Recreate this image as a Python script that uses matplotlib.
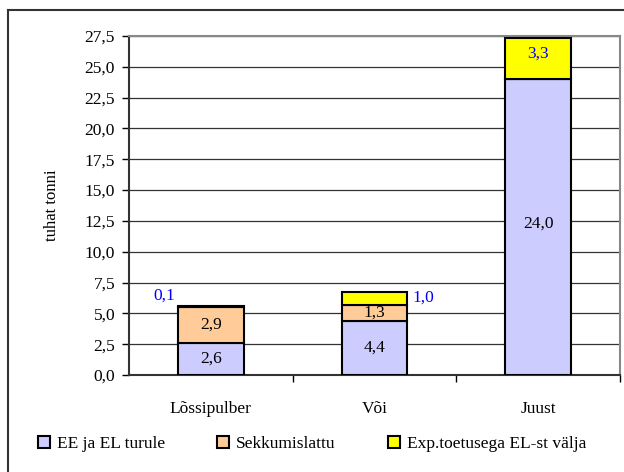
import numpy as np
import matplotlib
matplotlib.use("Agg")
import matplotlib.pyplot as plt
from matplotlib.lines import Line2D
from matplotlib.patches import Patch

plt.rcParams['font.family'] = ['Liberation Serif', 'DejaVu Serif']

categories = ['Lõssipulber', 'Või', 'Juust']
series_names = ['EE ja EL turule', 'Sekkumislattu', 'Exp.toetusega EL-st välja']
ee_el = [2.6, 4.4, 24.0]
sekkumine = [2.9, 1.3, 0.0]
eksport = [0.1, 1.0, 3.3]
colors = ['#CCCCFF', '#FFCC99', '#FFFF00']
yticks = np.arange(0, 27.6, 2.5)

def fmt(v):
    return f'{v:.1f}'.replace('.', ',')

FS = 12.5

fig = plt.figure(figsize=(6.24, 4.72), dpi=100)
ax = fig.add_axes([129/624, 1 - 375/472, (620 - 129)/624, (375 - 36)/472])

x = np.arange(len(categories))
w = 0.4
ax.bar(x, ee_el, w, color=colors[0], edgecolor='black', linewidth=1.5, zorder=3)
bottom2 = np.array(ee_el)
ax.bar(x, sekkumine, w, bottom=bottom2, color=colors[1], edgecolor='black', linewidth=1.5, zorder=3)
bottom3 = bottom2 + np.array(sekkumine)
eks_colors = ['black', colors[2], colors[2]]
ax.bar(x, eksport, w, bottom=bottom3, color=eks_colors, edgecolor='black', linewidth=1.5, zorder=3)

ax.set_xlim(-0.5, 2.5)
ax.set_ylim(0, 27.5)
ax.set_yticks(yticks)
ax.set_yticklabels([fmt(v) for v in yticks], fontsize=FS)
ax.set_xticks(x)
ax.set_xticklabels(categories, fontsize=FS)
ax.set_xticks([0.5, 1.5, 2.5], minor=True)
ax.tick_params(axis='x', which='major', length=0, pad=19)
ax.tick_params(axis='x', which='minor', length=5, width=1, direction='out')
ax.tick_params(axis='y', length=5, width=1, direction='out', pad=5)
ax.yaxis.grid(True, color='#333333', linewidth=0.9, zorder=0)
ax.set_axisbelow(True)
ax.set_ylabel('tuhat tonni', fontsize=12, labelpad=18)

for s in ['left', 'bottom']:
    ax.spines[s].set_linewidth(1.5)
    ax.spines[s].set_color('#333333')
for s in ['top', 'right']:
    ax.spines[s].set_linewidth(1.5)
    ax.spines[s].set_color('#888888')

# value labels
ax.text(0, ee_el[0] / 2, fmt(ee_el[0]), ha='center', va='center', fontsize=FS)
ax.text(0, bottom2[0] + sekkumine[0] / 2, fmt(sekkumine[0]), ha='center', va='center', fontsize=FS)
ax.text(-0.22, bottom3[0] + eksport[0] + 0.2, fmt(eksport[0]), ha='right', va='bottom', fontsize=FS, color='#0000FF')
ax.text(1, ee_el[1] / 2, fmt(ee_el[1]), ha='center', va='center', fontsize=FS)
ax.text(1, bottom2[1] + sekkumine[1] / 2, fmt(sekkumine[1]), ha='center', va='center', fontsize=FS)
ax.text(1.23, bottom3[1] + eksport[1] / 2 + 0.1, fmt(eksport[1]), ha='left', va='center', fontsize=FS, color='#0000FF')
ax.text(2, ee_el[2] / 2 + 0.3, fmt(ee_el[2]), ha='center', va='center', fontsize=FS)
ax.text(2, bottom3[2] + eksport[2] * 0.63, fmt(eksport[2]), ha='center', va='center', fontsize=FS, color='#0000FF')

handles = [Patch(facecolor=c, edgecolor='black', linewidth=1.5) for c in colors]
fig.legend(handles, series_names, loc='center', bbox_to_anchor=(0.5, 1 - 444/472), ncol=3,
           frameon=False, fontsize=FS, handlelength=0.7, handleheight=0.7,
           handletextpad=0.4, columnspacing=3.0)

# outer chart border (left and top visible)
fig.add_artist(Line2D([8/624, 1], [1 - 10/472, 1 - 10/472], transform=fig.transFigure, color='#333333', linewidth=1.5))
fig.add_artist(Line2D([8/624, 8/624], [0, 1 - 10/472], transform=fig.transFigure, color='#333333', linewidth=1.5))

fig.savefig('out.png', dpi=100)
